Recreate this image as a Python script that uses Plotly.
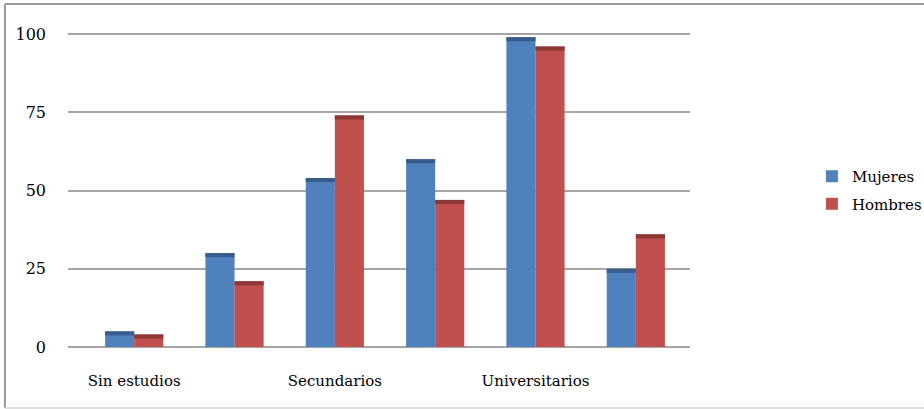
import plotly.graph_objects as go

# Education level (only every other level is labelled on the axis)
tick_labels = ["Sin estudios", "", "Secundarios", "", "Universitarios", ""]
positions = list(range(len(tick_labels)))

mujeres = [5, 30, 54, 60, 99, 25]
hombres = [4, 21, 74, 47, 96, 36]

y_ticks = [0, 25, 50, 75, 100]

BLUE = "#4F81BD"
BLUE_DARK = "#385D8A"
RED = "#C0504D"
RED_DARK = "#8C3836"
GRID = "#A6A6A6"
FONT = "DejaVu Serif"
FSIZE = 15

BAR_W = 0.29
CAP = 1.3  # depth of the shaded top face, in value units

fig = go.Figure()

fig.add_trace(go.Bar(
    x=positions, y=mujeres, name="Mujeres", legendgroup="m",
    marker=dict(color=BLUE, line=dict(width=0)),
    width=BAR_W, offset=-BAR_W,
))
fig.add_trace(go.Bar(
    x=positions, y=hombres, name="Hombres", legendgroup="h",
    marker=dict(color=RED, line=dict(width=0)),
    width=BAR_W, offset=0,
))

# darker top faces give the columns their bevelled look
fig.add_trace(go.Bar(
    x=positions, y=[CAP] * len(mujeres), base=[v - CAP for v in mujeres],
    marker=dict(color=BLUE_DARK, line=dict(width=0)),
    width=BAR_W, offset=-BAR_W, showlegend=False, hoverinfo="skip",
))
fig.add_trace(go.Bar(
    x=positions, y=[CAP] * len(hombres), base=[v - CAP for v in hombres],
    marker=dict(color=RED_DARK, line=dict(width=0)),
    width=BAR_W, offset=0, showlegend=False, hoverinfo="skip",
))

shapes = []
# small slanted stubs joining each tick label to its gridline
for v in y_ticks:
    shapes.append(dict(type="line", xref="x", yref="y",
                       x0=-0.74, y0=v - 1.9, x1=-0.66, y1=v,
                       line=dict(color=GRID, width=2), layer="below"))
# chart frame
shapes.append(dict(type="line", xref="paper", yref="paper",
                   x0=-0.1013, y0=1.08125, x1=1.45, y1=1.08125,
                   line=dict(color="#9A9A9A", width=2)))
shapes.append(dict(type="line", xref="paper", yref="paper",
                   x0=-0.1013, y0=1.08125, x1=-0.1013, y1=-0.18125,
                   line=dict(color="#9A9A9A", width=2)))
shapes.append(dict(type="line", xref="paper", yref="paper",
                   x0=-0.1013, y0=-0.18125, x1=1.45, y1=-0.18125,
                   line=dict(color="#D4D4D4", width=1.5)))

fig.update_layout(
    width=924, height=409,
    margin=dict(l=68, r=234, t=30, b=59, autoexpand=False),
    paper_bgcolor="white", plot_bgcolor="white",
    barmode="overlay",
    font=dict(family=FONT, size=FSIZE, color="black"),
    showlegend=True,
    legend=dict(
        x=1.196, y=0.5, xanchor="left", yanchor="middle",
        font=dict(family=FONT, size=FSIZE, color="black"),
        traceorder="grouped", tracegroupgap=5, itemwidth=30,
        bgcolor="rgba(0,0,0,0)",
    ),
    shapes=shapes,
    xaxis=dict(
        range=[-0.66, 5.54],
        tickmode="array", tickvals=positions, ticktext=tick_labels,
        showgrid=False, zeroline=False, showline=False,
        ticks="", ticklabelstandoff=20,
        tickfont=dict(family=FONT, size=FSIZE),
    ),
    yaxis=dict(
        range=[-0.96, 101.28],
        tickmode="array", tickvals=y_ticks,
        showgrid=True, gridcolor=GRID, gridwidth=2,
        zeroline=False, showline=False,
        ticks="", ticklabelstandoff=21,
        tickfont=dict(family=FONT, size=16),
    ),
)

fig.write_html("out.html")
